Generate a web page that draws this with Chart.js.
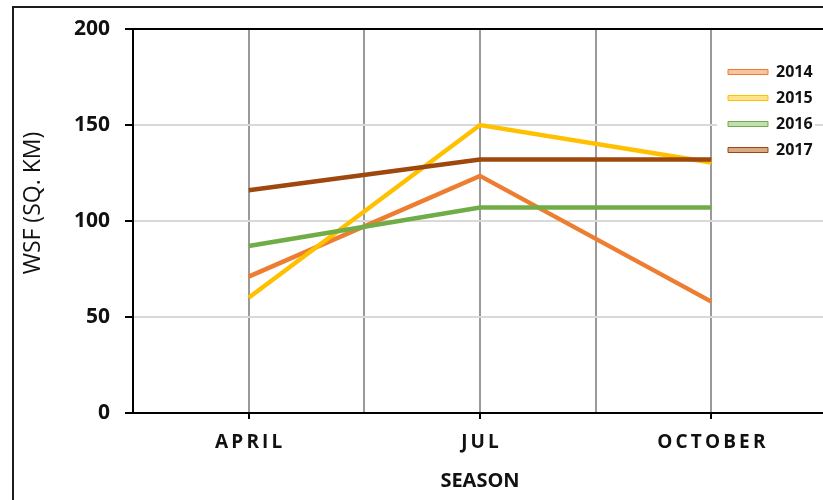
<!DOCTYPE html>
<html>
<head>
<meta charset="utf-8">
<script src="https://cdn.jsdelivr.net/npm/chart.js@4/dist/chart.umd.min.js"></script>
<style>
  html, body { margin: 0; padding: 0; background: #fff; overflow: hidden; width: 823px; height: 500px; }
  #frame { position: absolute; left: 12px; top: 6px; width: 900px; height: 600px; border-left: 2px solid #1c1c1c; border-top: 2px solid #1c1c1c; }
  #c { position: absolute; left: 0; top: 0; }
</style>
</head>
<body>
<div id="frame"></div>
<canvas id="c" width="840" height="500"></canvas>
<script>
const seasons = ['APRIL', 'JUL', 'OCTOBER'];
const wsf2014 = [71, 123.5, 58];
const wsf2015 = [60, 150, 130.5];
const wsf2016 = [87, 107, 107];
const wsf2017 = [116, 132, 132];
const yTicks = [0, 50, 100, 150, 200];

const FONT = "'Open Sans', 'Liberation Sans', sans-serif";

function pts(arr) {
    return arr.map((v, i) => ({ x: i, y: v }));
}

// legend sits inside the plot, top right, on a white box
const legendMover = {
    id: 'legendMover',
    afterLayout(chart) {
        const lg = chart.legend;
        lg.left = 718;
        lg.top = 54;
        lg.right = lg.left + lg.width;
        lg.bottom = lg.top + lg.height;
    },
    beforeDatasetsDraw(chart) {
        const ctx = chart.ctx;
        ctx.save();
        ctx.fillStyle = '#fff';
        ctx.fillRect(717, 55, 98, 110);
        ctx.restore();
        chart.legend.draw();
    }
};

const ctx = document.getElementById('c').getContext('2d');

const chart = new Chart(ctx, {
    type: 'line',
    data: {
        datasets: [
            { label: '2014', data: pts(wsf2014), borderColor: '#ED7D31', backgroundColor: '#F7C4A2', borderWidth: 4.5, order: 3 },
            { label: '2015', data: pts(wsf2015), borderColor: '#FFC000', backgroundColor: '#FFE38A', borderWidth: 4.5, order: 2 },
            { label: '2016', data: pts(wsf2016), borderColor: '#70AD47', backgroundColor: '#C3DEB0', borderWidth: 4.5, order: 1 },
            { label: '2017', data: pts(wsf2017), borderColor: '#9E480E', backgroundColor: '#D9A886', borderWidth: 4.5, order: 0 }
        ]
    },
    options: {
        responsive: false,
        animation: false,
        elements: {
            line: { tension: 0, fill: false, borderCapStyle: 'butt' },
            point: { radius: 0 }
        },
        layout: { padding: { left: 17, right: 13, top: 29, bottom: 0 } },
        scales: {
            x: {
                type: 'linear',
                min: -0.5,
                max: 2.5,
                afterFit: (s) => { s.height = 87; },
                ticks: {
                    stepSize: 0.5,
                    autoSkip: false,
                    maxRotation: 0,
                    padding: 12,
                    color: '#111',
                    font: { family: FONT, size: 19, weight: 'bold' },
                    callback: (v) => Number.isInteger(v) && seasons[v] ? seasons[v].split('').join('\u2009') : ''
                },
                grid: {
                    color: '#9a9a9a',
                    lineWidth: 2,
                    tickLength: 6,
                    tickColor: (c) => (c.tick && Number.isInteger(c.tick.value)) ? '#000' : 'rgba(0,0,0,0)'
                },
                border: { color: '#000', width: 2 },
                title: {
                    display: true,
                    text: 'SEASON',
                    color: '#111',
                    font: { family: FONT, size: 20, weight: 'bold' },
                    padding: { top: 0, bottom: 7 }
                }
            },
            y: {
                min: 0,
                max: 200,
                afterFit: (s) => { s.width = 116; },
                afterBuildTicks: (s) => { s.ticks = yTicks.map(v => ({ value: v })); },
                ticks: {
                    padding: 15,
                    color: '#111',
                    font: { family: FONT, size: 21, weight: 'bold' }
                },
                grid: {
                    color: (c) => (c.tick && c.tick.value === 200) ? '#000' : '#d9d9d9',
                    lineWidth: 2,
                    tickLength: 8,
                    tickColor: '#000'
                },
                border: { color: '#000', width: 2 },
                title: {
                    display: true,
                    // leading spaces lift the title a bit above the plot centre, like the original
                    text: '\u00a0\u00a0\u00a0\u00a0\u00a0\u00a0WSF (SQ. KM)',
                    color: '#111',
                    font: { family: FONT, size: 23, weight: 'normal' },
                    padding: { top: 3, bottom: 0 }
                }
            }
        },
        plugins: {
            tooltip: { enabled: false },
            legend: {
                position: 'chartArea',
                align: 'start',
                labels: {
                    boxWidth: 40,
                    boxHeight: 5,
                    padding: 10,
                    color: '#111',
                    font: { family: FONT, size: 16, weight: 'bold' },
                    generateLabels: (chart) => {
                        const items = Chart.defaults.plugins.legend.labels.generateLabels(chart);
                        items.sort((a, b) => a.datasetIndex - b.datasetIndex);
                        items.forEach(it => { it.lineWidth = 1; });
                        return items;
                    }
                }
            }
        }
    },
    plugins: [legendMover]
});
</script>
</body>
</html>
